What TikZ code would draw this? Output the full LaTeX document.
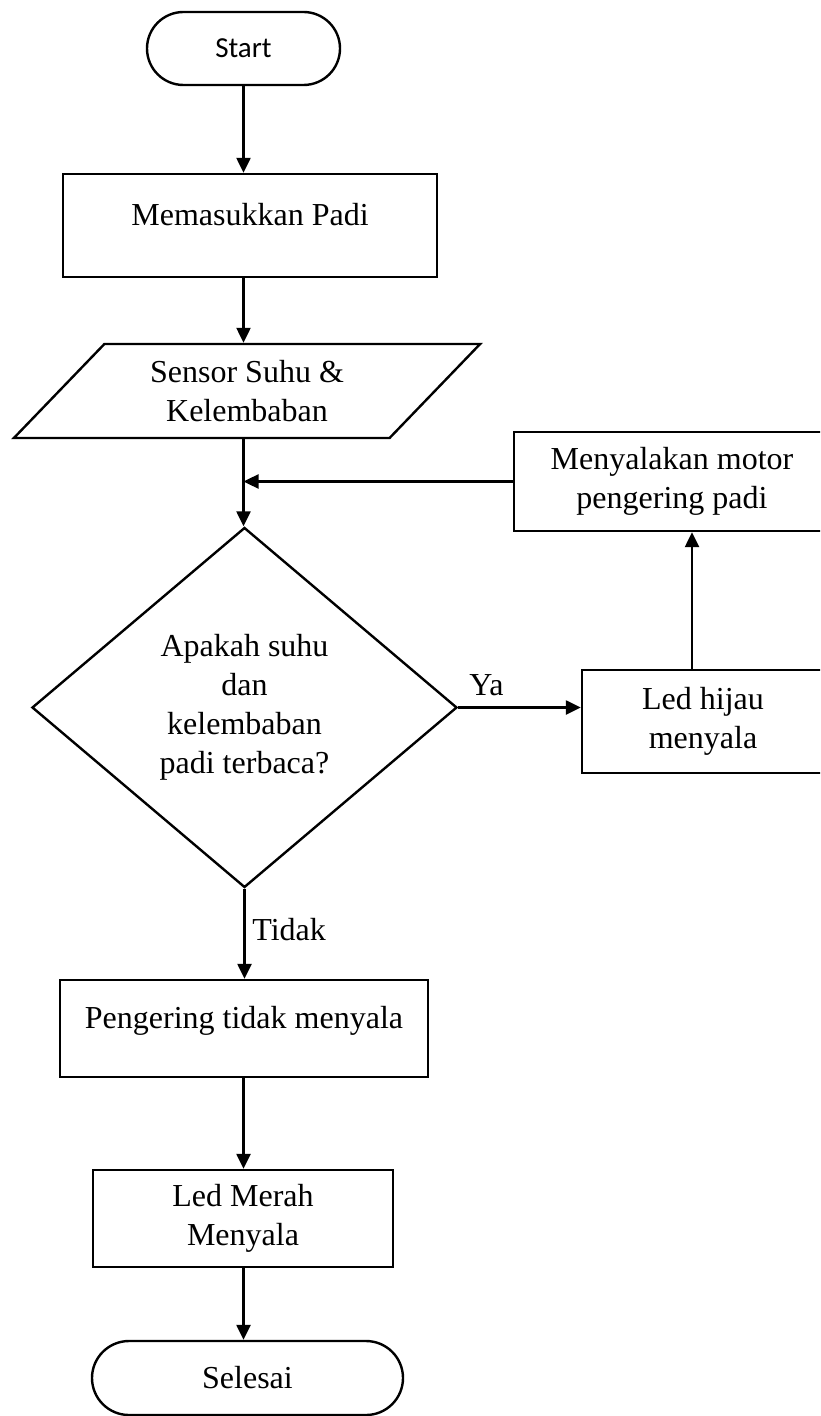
\documentclass[tikz,border=0pt]{standalone}
\usepackage{fontspec}
\setmainfont{Liberation Serif}
\newfontfamily\startfont{Carlito}
\usetikzlibrary{shapes.geometric, shapes.misc, arrows.meta}

\begin{document}
\begin{tikzpicture}[x=0.5pt, y=-0.5pt, line width=1.2pt,
        font=\fontsize{16}{19.5}\selectfont,
        proses/.style={draw, rectangle, align=center, inner sep=0pt},
        terminal/.style={draw, rounded rectangle, inner sep=0pt},
        masukan/.style={draw, trapezium, trapezium left angle=45, trapezium right angle=135,
            trapezium stretches=true, align=center, inner sep=0pt},
        keputusan/.style={draw, diamond, align=center, inner sep=0pt},
        panah/.style={-{Triangle[length=7.5pt,width=7pt]}}]
        \useasboundingbox (0,0) rectangle (820,1416);
        \clip (0,0) rectangle (820,1416);
        \node[terminal, minimum width=96.5pt, minimum height=36.5pt,
            font=\startfont\fontsize{14.5}{17}\selectfont] (start) at (243.5,48.5) {Start};
        \node[proses, minimum width=187pt, minimum height=51.5pt,
            text height=11pt, text depth=11pt] (masuk) at (250,225.5) {Memasukkan Padi};
        \node[masukan, minimum width=233.5pt, minimum height=47pt] (sensor) at (247,391)
            {Sensor Suhu \&\\Kelembaban};
        \node[keputusan, minimum width=212.5pt, minimum height=180pt] (decision) at (244.5,707.5)
            {Apakah suhu\\dan\\kelembaban\\padi terbaca?};
        \node[proses, minimum width=158pt, minimum height=49.5pt] (motor) at (672,481.5)
            {Menyalakan motor\\pengering padi};
        \node[proses, minimum width=121pt, minimum height=51.5pt] (ledhijau) at (703,721.5)
            {Led hijau\\menyala};
        \node[proses, minimum width=184pt, minimum height=48.5pt,
            text height=11pt, text depth=11pt] (pengering) at (244,1028.5) {Pengering tidak menyala};
        \node[proses, minimum width=150pt, minimum height=48.5pt] (ledmerah) at (243,1218.5)
            {Led Merah\\Menyala};
        \node[terminal, minimum width=155.5pt, minimum height=37pt] (selesai) at (247.5,1378) {Selesai};
        \foreach \a/\b in {start/masuk, masuk/sensor, sensor/decision, pengering/ledmerah, ledmerah/selesai}{%
                \draw[panah] (\a.south -| start) -- (\b.north -| start);
            }
        \draw[panah] (decision.south) -- node[right, pos=0.45] {Tidak} (decision.south |- pengering.north);
        \draw[panah] (decision.east) -- node[above, pos=0.23, yshift=2pt] {Ya} (decision.east -| ledhijau.west);
        \draw[panah] ([xshift=-5.5pt]ledhijau.north) -- ([xshift=-5.5pt]ledhijau.north |- motor.south);
        \draw[panah] (motor.west) -- (motor.west -| start);
    \end{tikzpicture}
\end{document}
